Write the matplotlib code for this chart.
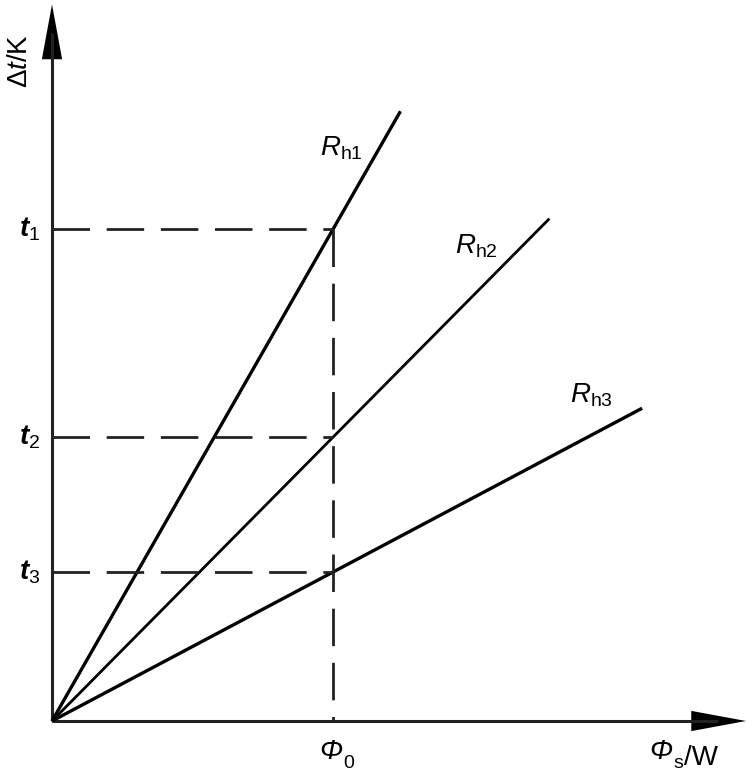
import matplotlib
matplotlib.use("Agg")
import matplotlib.pyplot as plt
from matplotlib.transforms import IdentityTransform
import numpy as np

# schematic data (x in units of Phi0, y in same units)
phi0 = 1.0
series = ["h1", "h2", "h3"]
slopes = [1.75, 1.01, 0.53]          # dt / Phi_s for each R_h
x_end = [1.24, 1.77, 2.10]           # where each line stops
t_labels = ["1", "2", "3"]
label_pos = [(1.03, 2.04), (1.51, 1.69), (1.92, 1.16)]

plt.rcParams["font.family"] = ["Liberation Sans", "DejaVu Sans"]
plt.rcParams["mathtext.fontset"] = "custom"
plt.rcParams["mathtext.rm"] = "Liberation Sans"
plt.rcParams["mathtext.it"] = "Liberation Sans:italic"
plt.rcParams["mathtext.bfit"] = "Liberation Sans:italic:bold"
plt.rcParams["lines.scale_dashes"] = False

fig = plt.figure(figsize=(7.56, 7.78), dpi=100)
ax = fig.add_axes([0, 0, 1, 1])
u = 281.0  # px per unit
ax.set_xlim(-52 / u, (756 - 52) / u)
ax.set_ylim((721 - 778) / u, 721 / u)
ax.axis("off")

x_tip, y_tip = 2.47, 2.55
# axes
ax.plot([0, x_tip - 0.1], [0, 0], color="#222", lw=2.2, solid_capstyle="butt")
ax.plot([0, 0], [0, y_tip - 0.1], color="#222", lw=2.2, solid_capstyle="butt")
# arrowheads
ah_len, ah_w = 0.195, 0.036
ax.fill([x_tip, x_tip - ah_len, x_tip - ah_len], [0, ah_w, -ah_w], color="black", lw=0)
ax.fill([0, ah_w, -ah_w], [y_tip, y_tip - ah_len, y_tip - ah_len], color="black", lw=0)

# R_h lines
widths = [2.4, 2.0, 2.4]
for s, xe, w in zip(slopes, x_end, widths):
    xs = np.array([0, xe])
    ax.plot(xs, s * xs, color="black", lw=w, solid_capstyle="butt")

# dashed guides
t_vals = [s * phi0 for s in slopes]
for tv in t_vals:
    ax.plot([0, phi0], [tv, tv], color="#222", lw=2.0, dashes=(27, 12))
ax.plot([phi0, phi0], [max(t_vals), 0], color="#222", lw=2.0, dashes=(27, 12))

# texts
fs = 20
for tv, lab in zip(t_vals, t_labels):
    ax.text(-0.04, tv, r"$\mathbfit{t}_{%s}$" % lab, fontsize=fs,
            ha="right", va="center")
for (lx, ly), lab in zip(label_pos, series):
    ax.text(lx, ly, r"$\mathit{R}_{\mathrm{%s}}$" % lab, fontsize=fs,
            ha="center", va="center")

r = fig.canvas.get_renderer()


def phi_label(x, y, sub, tail=""):
    t = ax.text(x, y, "Φ", style="italic", fontsize=fs, ha="left", va="baseline")
    bb = t.get_window_extent(r)
    s = ax.text(bb.x1 + 1, bb.y0 - 3, sub, fontsize=14, ha="left", va="baseline",
                transform=IdentityTransform())
    if tail:
        bb2 = s.get_window_extent(r)
        ax.text(bb2.x1 + 1, bb.y0, tail, fontsize=fs, ha="left", va="baseline",
                transform=IdentityTransform())


phi_label(phi0 - 0.05, -0.135, "0")
phi_label(2.125, -0.135, "s", "/W")
ax.text(-0.114, 2.35, r"$\Delta\mathit{t}\mathrm{/K}$", fontsize=fs, rotation=90,
        ha="center", va="center")

fig.savefig("out.png", dpi=100)
